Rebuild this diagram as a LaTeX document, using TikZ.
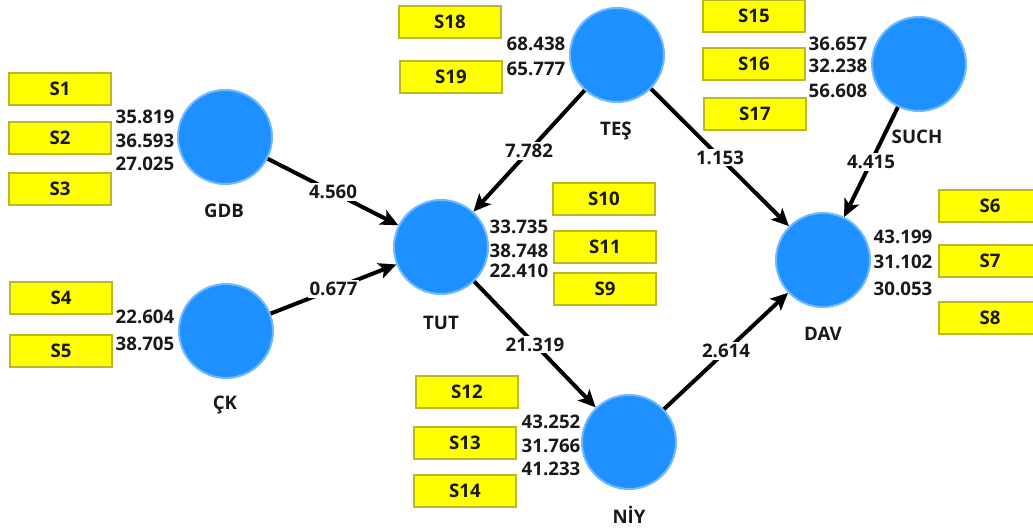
\documentclass[tikz,border=0pt]{standalone}
\usepackage{fontspec}
\setmainfont{Open Sans}
\usetikzlibrary{arrows.meta}
\definecolor{lvfill}{RGB}{30,144,255}
\definecolor{lvedge}{RGB}{110,185,255}
\definecolor{ybox}{RGB}{255,255,0}
\definecolor{yedge}{RGB}{185,185,40}
\definecolor{txt}{RGB}{25,25,25}
\tikzset{
  lv/.style={circle, fill=lvfill, draw=lvedge, line width=1.5pt, minimum size=70.5pt, inner sep=0pt},
  ind/.style={rectangle, fill=ybox, draw=yedge, line width=1.5pt, minimum width=77pt, minimum height=24pt, inner sep=0pt, font=\fontsize{14}{16}\selectfont\bfseries, text=txt},
  lvname/.style={anchor=base, inner sep=0pt, font=\fontsize{14}{16}\selectfont\bfseries, text=txt},
  load/.style={anchor=base, inner sep=0pt, font=\fontsize{14}{16}\selectfont\bfseries, text=txt},
  pathc/.style={line width=3pt, draw=black, -{Stealth[length=13pt,width=12pt,inset=3pt]}},
  plab/.style={fill=white, inner sep=1.5pt, font=\fontsize{14}{16}\selectfont\bfseries, text=txt, pos=0.5}
}
\begin{document}
\begin{tikzpicture}[x=0.75pt,y=-0.75pt]
\useasboundingbox (0,0) rectangle (1033,532);
\clip (0,0) rectangle (1033,532);
% latent variables
\node[lv] (GDB) at (225,137) {};
\node[lv] (TES) at (617,55) {};
\node[lv] (SUCH) at (919,64) {};
\node[lv] (TUT) at (441,247) {};
\node[lv] (DAV) at (823,260) {};
\node[lv] (NIY) at (629,442) {};
\node[lv] (CK) at (226,331) {};
% names
\node[lvname] (nGDB) at (224,217) {GDB};
\node[lvname] (nTES) at (616,135) {TEŞ};
\node[lvname] (nSUCH) at (917,143) {SUCH};
\node[lvname] (nTUT) at (441,329) {TUT};
\node[lvname] (nDAV) at (823,340) {DAV};
\node[lvname] (nNIY) at (629,523) {NİY};
\node[lvname] (nCK) at (225,409) {ÇK};
% indicators
\node[ind] (S1) at (60,89) {S1};
\node[ind] (S2) at (60,138) {S2};
\node[ind] (S3) at (60,189) {S3};
\node[ind] (S4) at (61,298) {S4};
\node[ind] (S5) at (61,351) {S5};
\node[ind] (S18) at (450,22) {S18};
\node[ind] (S19) at (451,77) {S19};
\node[ind] (S15) at (754,16) {S15};
\node[ind] (S16) at (754,64) {S16};
\node[ind] (S17) at (755,114) {S17};
\node[ind] (S10) at (604,199) {S10};
\node[ind] (S11) at (605,247) {S11};
\node[ind] (S9) at (605,289) {S9};
\node[ind] (S6) at (990,206) {S6};
\node[ind] (S7) at (990,261) {S7};
\node[ind] (S8) at (990,318) {S8};
\node[ind] (S12) at (467,392) {S12};
\node[ind] (S13) at (465,443) {S13};
\node[ind] (S14) at (465,491) {S14};
% loadings
\node[load] (l1) at (145,123) {35.819};
\node[load] (l2) at (145,147) {36.593};
\node[load] (l3) at (145,170) {27.025};
\node[load] (l4) at (145,323) {22.604};
\node[load] (l5) at (145,350) {38.705};
\node[load] (l18) at (536,50) {68.438};
\node[load] (l19) at (536,75) {65.777};
\node[load] (l15) at (838,50) {36.657};
\node[load] (l16) at (838,72) {32.238};
\node[load] (l17) at (838,97) {56.608};
\node[load] (l10) at (519,233) {33.735};
\node[load] (l11) at (519,257) {38.748};
\node[load] (l9) at (519,277) {22.410};
\node[load] (l6) at (903,243) {43.199};
\node[load] (l7) at (903,268) {31.102};
\node[load] (l8) at (903,295) {30.053};
\node[load] (l12) at (551,428) {43.252};
\node[load] (l13) at (551,452) {31.766};
\node[load] (l14) at (551,475) {41.233};
% structural paths
\draw[pathc] (GDB) -- node[plab] {4.560} (TUT);
\draw[pathc] (CK) -- node[plab] {0.677} (TUT);
\draw[pathc] (TES) -- node[plab] {7.782} (TUT);
\draw[pathc] (TES) -- node[plab] {1.153} (DAV);
\draw[pathc] (SUCH) -- node[plab] {4.415} (DAV);
\draw[pathc] (TUT) -- node[plab] {21.319} (NIY);
\draw[pathc] (NIY) -- node[plab] {2.614} (DAV);
\end{tikzpicture}
\end{document}
